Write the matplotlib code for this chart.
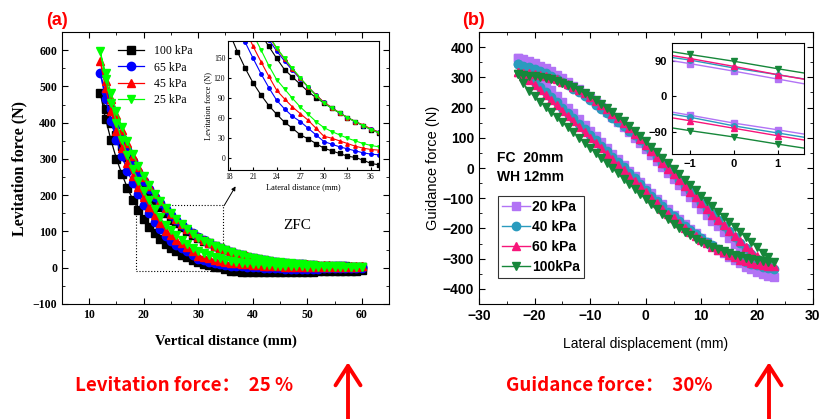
import numpy as np
import matplotlib
matplotlib.use("Agg")
import matplotlib.pyplot as plt
from matplotlib.patches import Rectangle, FancyArrowPatch

# ---------------- (a) levitation force, ZFC ----------------
lev_x = np.arange(12, 61)  # vertical distance (mm), 1 mm steps

lev_labels = ['100 kPa', '65 kPa', '45 kPa', '25 kPa']
lev_colors = ['black', 'blue', 'red', '#00FF00']
lev_markers = ['s', 'o', '^', 'v']

# approach branch (upper) and departure branch (lower), x ascending
lev_up_100 = [482, 438, 398, 365, 335, 305, 278, 252, 228, 206, 186, 168, 150, 133, 122, 111, 100, 91, 83, 75,
              68, 61, 55, 49, 43, 38, 34, 30, 26, 23, 20, 18, 16, 14, 12, 11, 10, 9, 8, 7, 6, 6, 5, 5, 4, 4, 3, 3, 2]
lev_lo_100 = [482, 411, 351, 300, 258, 220, 188, 160, 135, 113, 95, 79, 66, 54, 45, 35, 29, 22, 15, 11, 7, 3, 1,
              -3, -8, -10, -11, -12, -13, -13, -13, -13, -13, -12, -12, -12, -12, -11, -11, -11, -10, -10, -10,
              -9, -9, -8, -8, -8, -7]
lev_up_65 = [537, 484, 437, 395, 358, 324, 293, 265, 240, 217, 196, 178, 161, 146, 132, 119, 107, 95, 84, 76, 68,
             61, 55, 49, 44, 39, 34, 30, 27, 24, 21, 18, 16, 14, 13, 11, 10, 9, 8, 7, 6, 6, 5, 5, 4, 4, 3, 3, 2]
lev_lo_65 = [537, 465, 404, 352, 307, 268, 233, 202, 174, 150, 127, 106, 87, 74, 63, 55, 45, 35, 25, 21, 17, 14,
             11, 8, 6, 5, 4, 3, 2, 1, 0, -1, -2, -2, -3, -3, -3, -3, -3, -3, -3, -2, -2, -2, -2, -2, -1, -1, -1]
lev_up_45 = [570, 515, 465, 420, 380, 343, 309, 279, 251, 226, 203, 183, 165, 149, 134, 120, 107, 95, 84, 76, 68,
             61, 55, 50, 44, 39, 35, 31, 28, 25, 22, 19, 17, 15, 14, 12, 11, 10, 9, 8, 8, 7, 7, 6, 6, 5, 5, 5, 5]
lev_lo_45 = [570, 495, 432, 378, 331, 290, 254, 222, 194, 168, 145, 123, 102, 89, 77, 67, 57, 45, 33, 30, 26, 22,
             18, 15, 13, 12, 10, 9, 8, 7, 6, 5, 4, 4, 3, 3, 3, 2, 2, 2, 2, 2, 2, 2, 2, 2, 3, 3, 4]
lev_up_25 = [597, 536, 481, 432, 388, 349, 313, 281, 253, 227, 204, 184, 166, 150, 135, 121, 107, 94, 83, 75, 68,
             61, 55, 49, 43, 38, 34, 30, 27, 24, 21, 19, 17, 15, 13, 12, 10, 9, 8, 7, 6, 6, 5, 4, 4, 3, 3, 2, 1]
lev_lo_25 = [597, 520, 455, 400, 352, 310, 273, 240, 211, 186, 163, 139, 118, 104, 90, 77, 66, 55, 46, 40, 35, 30,
             26, 22, 19, 17, 14, 12, 10, 9, 8, 7, 6, 5, 5, 4, 4, 4, 3, 3, 3, 3, 2, 2, 2, 2, 1, 1, 1]

lev_up = [lev_up_100, lev_up_65, lev_up_45, lev_up_25]
lev_lo = [lev_lo_100, lev_lo_65, lev_lo_45, lev_lo_25]

# ---------------- (b) guidance force, FC ----------------
gd_x = np.arange(-23, 24)  # lateral displacement (mm)

gd_labels = ['20 kPa', '40 kPa', '60 kPa', '100kPa']
gd_colors = ['#B273F5', '#2A9BBE', '#F7157A', '#16873A']
gd_markers = ['s', 'o', '^', 'v']

gd_up_20 = [365, 360, 354, 347, 339, 330, 320, 309, 298, 286, 273, 260, 246, 232, 217, 202, 186, 170, 153, 136,
            119, 101, 83, 64, 44, 24, 4, -16, -36, -56, -76, -96, -116, -136, -155, -174, -193, -212, -231,
            -250, -268, -286, -303, -319, -334, -348, -362]
gd_lo_20 = [365, 348, 331, 313, 295, 276, 257, 238, 219, 200, 181, 162, 143, 124, 105, 86, 67, 48, 29, 10, -9,
            -28, -47, -67, -84, -102, -120, -137, -154, -170, -186, -201, -216, -230, -244, -257, -270, -282,
            -294, -305, -316, -326, -335, -343, -350, -356, -362]
gd_up_40 = [343, 339, 334, 328, 321, 313, 304, 295, 285, 274, 262, 250, 237, 224, 210, 196, 181, 167, 153, 139,
            124, 108, 92, 72, 55, 37, 18, -1, -20, -39, -58, -77, -96, -115, -134, -153, -172, -191, -210, -229,
            -248, -266, -284, -301, -313, -325, -335]
gd_lo_40 = [343, 321, 302, 285, 268, 251, 234, 217, 200, 182, 164, 146, 128, 110, 92, 74, 56, 38, 20, 2, -16,
            -34, -52, -74, -92, -110, -127, -144, -160, -176, -191, -205, -219, -232, -244, -256, -267, -277,
            -287, -296, -304, -311, -317, -322, -327, -331, -335]
gd_up_60 = [318, 316, 314, 311, 308, 304, 299, 293, 286, 278, 269, 259, 248, 236, 223, 209, 195, 180, 164, 148,
            131, 114, 96, 76, 55, 36, 17, -2, -21, -40, -59, -78, -97, -116, -135, -154, -172, -190, -208, -226,
            -243, -260, -276, -290, -303, -315, -325]
gd_lo_60 = [318, 305, 290, 274, 258, 241, 224, 207, 190, 173, 155, 137, 119, 101, 83, 65, 47, 29, 11, -7, -25,
            -43, -61, -80, -99, -117, -134, -151, -167, -183, -198, -212, -225, -237, -249, -260, -270, -279,
            -288, -296, -303, -309, -314, -318, -321, -323, -325]
gd_up_100 = [310, 308, 306, 304, 301, 297, 293, 288, 282, 275, 267, 258, 248, 237, 225, 212, 199, 185, 170, 155,
             139, 123, 106, 89, 70, 52, 34, 16, -2, -20, -38, -56, -74, -92, -110, -127, -144, -161, -178, -195,
             -212, -229, -246, -263, -280, -296, -312]
gd_lo_100 = [310, 280, 255, 237, 220, 203, 186, 169, 152, 135, 118, 101, 84, 67, 50, 33, 16, -1, -18, -35, -52,
             -69, -86, -102, -120, -137, -153, -169, -184, -198, -211, -223, -234, -244, -253, -261, -268, -275,
             -281, -287, -292, -297, -301, -304, -307, -310, -312]

gd_up = [gd_up_20, gd_up_40, gd_up_60, gd_up_100]
gd_lo = [gd_lo_20, gd_lo_40, gd_lo_60, gd_lo_100]


def loop(x, up, lo):
    # approach branch coming in, departure branch going back out
    xx = list(x[::-1]) + list(x[1:])
    yy = list(up[::-1]) + list(lo[1:])
    return xx, yy


def loop2(x, up, lo):
    xx = list(x) + list(x[::-1][1:])
    yy = list(up) + list(lo[::-1][1:])
    return xx, yy


serif = 'Liberation Serif'
sans = 'Liberation Sans'

fig = plt.figure(figsize=(8.2, 4.19), dpi=100)

# ---- panel (a) ----
ax1 = fig.add_axes([0.0756, 0.2745, 0.3988, 0.649])
for i in range(4):
    xx, yy = loop(lev_x, lev_up[i], lev_lo[i])
    ax1.plot(xx, yy, color=lev_colors[i], marker=lev_markers[i], markersize=6, lw=0.9,
             label=lev_labels[i])
ax1.set_xlim(5, 65)
ax1.set_ylim(-100, 650)
ax1.set_xticks([10, 20, 30, 40, 50, 60])
ax1.set_yticks([-100, 0, 100, 200, 300, 400, 500, 600])
ax1.set_xticks(np.arange(5, 66, 5), minor=True)
ax1.set_yticks(np.arange(-100, 651, 50), minor=True)
ax1.tick_params(which='both', direction='in', top=True, right=True, labelsize=8.5)
ax1.tick_params(which='major', length=4)
ax1.tick_params(which='minor', length=2)
for lab in ax1.get_xticklabels() + ax1.get_yticklabels():
    lab.set_fontfamily(serif)
    lab.set_fontweight('bold')
ax1.set_xlabel('Vertical distance (mm)', fontfamily=serif, fontweight='bold', fontsize=10.5, labelpad=10)
ax1.set_ylabel('Levitation force (N)', fontfamily=serif, fontweight='bold', fontsize=11.5, labelpad=4)
ax1.text(48.2, 117, 'ZFC', fontfamily=serif, fontsize=11, ha='center', va='center')
ax1.add_patch(Rectangle((18.5, -9), 16, 181, fill=False, ls=':', lw=0.8, color='black'))
leg1 = ax1.legend(loc='upper left', bbox_to_anchor=(0.14, 0.99), frameon=False, handlelength=2.2,
                  labelspacing=0.35, prop={'family': serif, 'size': 8.5})

# inset (a)
axi1 = fig.add_axes([0.278, 0.594, 0.184, 0.308])
for i in range(4):
    xx, yy = loop(lev_x, lev_up[i], lev_lo[i])
    axi1.plot(xx, yy, color=lev_colors[i], marker=lev_markers[i], markersize=2.5, lw=0.8)
axi1.set_xlim(17.8, 37)
axi1.set_ylim(-18, 176)
axi1.set_xticks([18, 21, 24, 27, 30, 33, 36])
axi1.set_yticks([0, 30, 60, 90, 120, 150])
axi1.tick_params(direction='in', labelsize=5.5, length=2, pad=2)
for lab in axi1.get_xticklabels() + axi1.get_yticklabels():
    lab.set_fontfamily(serif)
axi1.set_xlabel('Lateral distance (mm)', fontfamily=serif, fontsize=6, labelpad=2)
axi1.set_ylabel('Levitation force (N)', fontfamily=serif, fontsize=6, labelpad=1)

fig.add_artist(FancyArrowPatch((0.2716, 0.5036), (0.289, 0.561), transform=fig.transFigure,
                               arrowstyle='-|>', mutation_scale=6, lw=0.7, color='black'))

# ---- panel (b) ----
ax2 = fig.add_axes([0.584, 0.2745, 0.407, 0.649])
for i in range(4):
    xx, yy = loop2(gd_x, gd_up[i], gd_lo[i])
    ax2.plot(xx, yy, color=gd_colors[i], marker=gd_markers[i], markersize=6, lw=1.0, label=gd_labels[i])
ax2.set_xlim(-30, 30)
ax2.set_ylim(-450, 450)
ax2.set_xticks([-30, -20, -10, 0, 10, 20, 30])
ax2.set_yticks([-400, -300, -200, -100, 0, 100, 200, 300, 400])
ax2.set_xticks(np.arange(-30, 31, 5), minor=True)
ax2.set_yticks(np.arange(-450, 451, 50), minor=True)
ax2.tick_params(which='both', direction='in', top=True, right=True, labelsize=10)
ax2.tick_params(which='major', length=4)
ax2.tick_params(which='minor', length=2)
for lab in ax2.get_xticklabels() + ax2.get_yticklabels():
    lab.set_fontfamily(sans)
    lab.set_fontweight('bold')
ax2.set_xlabel('Lateral displacement (mm)', fontfamily=sans, fontsize=10, labelpad=10)
ax2.set_ylabel('Guidance force (N)', fontfamily=sans, fontsize=10.5, labelpad=2)
ax2.text(0.055, 0.537, 'FC  20mm', transform=ax2.transAxes, fontfamily=sans, fontweight='bold', fontsize=10,
         va='center')
ax2.text(0.055, 0.467, 'WH 12mm', transform=ax2.transAxes, fontfamily=sans, fontweight='bold', fontsize=10,
         va='center')
leg2 = ax2.legend(loc='upper left', bbox_to_anchor=(0.056, 0.397), frameon=True, fancybox=False,
                  edgecolor='black', handlelength=2.0, labelspacing=0.42, borderpad=0.3, handletextpad=0.2,
                  borderaxespad=0.0, prop={'family': sans, 'weight': 'bold', 'size': 10})
leg2.get_frame().set_linewidth(0.8)

# inset (b)
axi2 = fig.add_axes([0.8195, 0.6325, 0.161, 0.265])
for i in range(4):
    xx, yy = loop2(gd_x, gd_up[i], gd_lo[i])
    axi2.plot(xx, yy, color=gd_colors[i], marker=gd_markers[i], markersize=4, lw=1.0)
axi2.set_xlim(-1.4, 1.6)
axi2.set_ylim(-145, 135)
axi2.set_xticks([-1, 0, 1])
axi2.set_yticks([-90, 0, 90])
axi2.tick_params(direction='in', labelsize=8, length=3)
for lab in axi2.get_xticklabels() + axi2.get_yticklabels():
    lab.set_fontfamily(sans)
    lab.set_fontweight('bold')

# ---- panel letters and slide annotations ----
fig.text(0.056, 0.952, '(a)', color='red', fontweight='bold', fontsize=13, fontfamily=sans, ha='left',
         va='center')
fig.text(0.564, 0.952, '(b)', color='red', fontweight='bold', fontsize=13, fontfamily=sans, ha='left',
         va='center')

cjk = ['Noto Sans CJK SC', 'DejaVu Sans']
fig.text(0.225, 0.079, 'Levitation force：  25 %', color='red', fontsize=13.5, family=cjk,
         fontweight='bold', ha='center', va='center')
fig.text(0.743, 0.079, 'Guidance force：  30%', color='red', fontsize=13.5, family=cjk,
         fontweight='bold', ha='center', va='center')

for xa in [0.4244, 0.9378]:
    fig.add_artist(FancyArrowPatch((xa, -0.02), (xa, 0.142), transform=fig.transFigure,
                                   arrowstyle='->,head_length=0.7,head_width=0.45',
                                   mutation_scale=20, lw=2.8, color='red'))

fig.savefig('out.png', dpi=100)
